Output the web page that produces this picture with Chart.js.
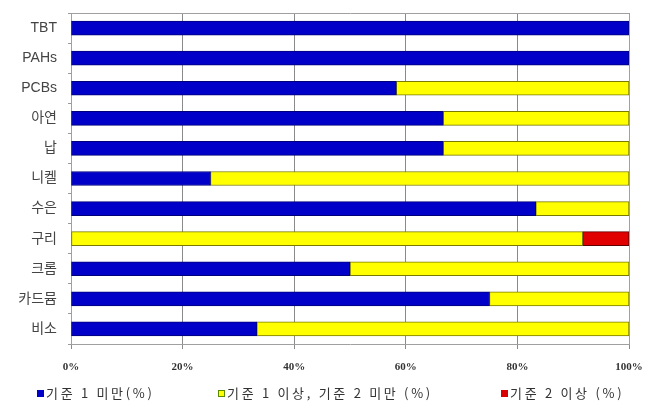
<!DOCTYPE html>
<html>
<head>
<meta charset="utf-8">
<script src="https://cdn.jsdelivr.net/npm/chart.js@4/dist/chart.umd.min.js"></script>
<style>
  html, body { margin: 0; padding: 0; background: #fff; }
  #wrap { position: relative; width: 645px; height: 410px; overflow: hidden; }
  canvas { position: absolute; left: 0; top: 0; }
  .lg { position: absolute; top: 384px; font-family: "Noto Sans CJK KR", sans-serif; font-size: 13px; color: #333; letter-spacing: 2.7px; line-height: 17px; white-space: nowrap; }
  .lg i { display: inline-block; width: 7px; height: 7px; margin-right: 2px; vertical-align: 1px; box-sizing: border-box; }
</style>
</head>
<body>
<div id="wrap">
  <canvas id="c" width="645" height="410"></canvas>
  <div class="lg" style="left:37px"><i style="background:#0000c8"></i>기준 1 미만(%)</div>
  <div class="lg" style="left:218px"><i style="background:#ffff00;border:1.5px solid #5a8a00"></i>기준 1 이상, 기준 2 미만 (%)</div>
  <div class="lg" style="left:501px"><i style="background:#d80000"></i>기준 2 이상 (%)</div>
</div>
<script>
const categories = ['TBT', 'PAHs', 'PCBs', '아연', '납', '니켈', '수은', '구리', '크롬', '카드뮴', '비소'];
const below1 = [100, 100, 58.3, 66.7, 66.7, 25, 83.3, null, 50, 75, 33.3];
const between12 = [null, null, 41.7, 33.3, 33.3, 75, 16.7, 91.7, 50, 25, 66.7];
const above2 = [null, null, null, null, null, null, null, 8.3, null, null, null];
const seriesNames = ['기준 1 미만(%)', '기준 1 이상, 기준 2 미만 (%)', '기준 2 이상 (%)'];
const xTicks = [0, 20, 40, 60, 80, 100];

const borderPlugin = {
  id: 'plotBorder',
  afterDraw(chart) {
    const a = chart.chartArea, ctx = chart.ctx;
    ctx.save();
    ctx.strokeStyle = '#a0a0a0';
    ctx.lineWidth = 1;
    ctx.beginPath();
    ctx.moveTo(Math.round(a.left) + 0.5, Math.round(a.top) + 0.5);
    ctx.lineTo(Math.round(a.right) + 0.5, Math.round(a.top) + 0.5);
    ctx.lineTo(Math.round(a.right) + 0.5, Math.round(a.bottom) + 0.5);
    ctx.stroke();
    ctx.restore();
  }
};

new Chart(document.getElementById('c'), {
  type: 'bar',
  data: {
    labels: categories,
    datasets: [
      { label: seriesNames[0], data: below1, backgroundColor: '#0000c8', borderColor: '#00007a', borderWidth: 1, borderSkipped: false },
      { label: seriesNames[1], data: between12, backgroundColor: '#ffff00', borderColor: '#7a7a00', borderWidth: 1, borderSkipped: false },
      { label: seriesNames[2], data: above2, backgroundColor: '#e00000', borderColor: '#600000', borderWidth: 1, borderSkipped: false }
    ]
  },
  options: {
    indexAxis: 'y',
    responsive: false,
    animation: false,
    barThickness: 14,
    layout: { padding: { top: 13, right: 16, left: 0, bottom: 0 } },
    plugins: { legend: { display: false }, tooltip: { enabled: false } },
    scales: {
      x: {
        stacked: true,
        min: 0, max: 100,
        afterBuildTicks(scale) { scale.ticks = xTicks.map(v => ({ value: v })); },
        afterFit(scale) { scale.height = 66; scale.paddingLeft = 0; scale.paddingRight = 0; },
        grid: { color: '#8a8a8a', lineWidth: 1, tickLength: 5, drawTicks: true },
        border: { color: '#a0a0a0' },
        ticks: {
          padding: 12,
          maxRotation: 0,
          color: '#333',
          font: { family: '"Liberation Serif", serif', size: 11, weight: 'bold' },
          callback: v => v + '%'
        }
      },
      y: {
        stacked: true,
        afterFit(scale) { scale.width = 71; scale.paddingTop = 0; scale.paddingBottom = 0; },
        grid: { drawOnChartArea: false, offset: true, tickLength: 3, color: '#999' },
        border: { color: '#a0a0a0' },
        ticks: {
          padding: 11,
          color: '#444',
          font: { family: '"Liberation Sans", "Noto Sans CJK KR", sans-serif', size: 14 }
        }
      }
    }
  },
  plugins: [borderPlugin]
});
</script>
</body>
</html>
